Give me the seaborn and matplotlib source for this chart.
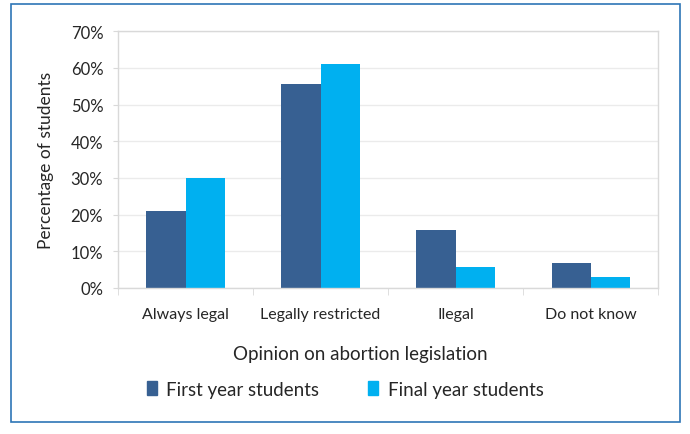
import numpy as np
import pandas as pd
import seaborn as sns
import matplotlib
matplotlib.use('AGG')
import matplotlib.pyplot as plt
from matplotlib.patches import Rectangle
from matplotlib.ticker import PercentFormatter

# Data
categories = ['Always legal', 'Legally restricted', 'Ilegal', 'Do not know']
first_year = [21.0, 55.7, 15.8, 6.8]
final_year = [30.0, 61.1, 5.7, 3.0]
series_names = ['First year students', 'Final year students']
colors = ['#376092', '#00B0F0']

df = pd.DataFrame({
    'category': categories * 2,
    'value': first_year + final_year,
    'group': [series_names[0]] * 4 + [series_names[1]] * 4,
})

sns.set_style('white')
plt.rcParams['font.family'] = ['Lato', 'DejaVu Sans']

fig = plt.figure(figsize=(6.9, 4.35), dpi=100)
ax = fig.add_axes([0.171, 0.336, 0.783, 0.590])

sns.barplot(data=df, x='category', y='value', hue='group', palette=colors,
            width=0.58, gap=0, ax=ax, legend=False, saturation=1, linewidth=0)

ax.set_ylim(0, 70)
ax.set_yticks(np.arange(0, 71, 10))
ax.yaxis.set_major_formatter(PercentFormatter(decimals=0))
ax.set_xlim(-0.5, 3.5)
ax.yaxis.grid(True, color='#EBEBEB', lw=1)
ax.set_axisbelow(True)
for s in ax.spines.values():
    s.set_color('#D9D9D9')
    s.set_linewidth(1)

ax.set_xticks(np.arange(-0.5, 4, 1), minor=True)
ax.tick_params(axis='x', which='minor', length=5, color='#D9D9D9', bottom=True)
ax.tick_params(axis='x', which='major', length=0, pad=14, labelsize=11.5, labelcolor='#262626')
ax.tick_params(axis='y', left=True, length=3.6, color='#D9D9D9', labelsize=12,
               labelcolor='#262626', pad=7)

ax.set_xlabel('Opinion on abortion legislation', fontsize=13.5, color='#262626')
ax.xaxis.set_label_coords(0.448, -0.224)
ax.set_ylabel('Percentage of students', fontsize=12.5, color='#262626', labelpad=12)

handles = [Rectangle((0, 0), 1, 1, color=c) for c in colors]
fig.legend(handles, series_names, loc='center', bbox_to_anchor=(0.5, 0.103),
           ncol=2, frameon=False, fontsize=13.5, handlelength=0.55, handleheight=0.75,
           handletextpad=0.5, columnspacing=2.6, labelcolor='#262626')

# outer frame
fig.patches.append(Rectangle((11 / 690, 12 / 435), 669 / 690, 418 / 435,
                             transform=fig.transFigure, fill=False,
                             edgecolor='#2E75B6', lw=1.2))

fig.savefig('out.png', dpi=100)
